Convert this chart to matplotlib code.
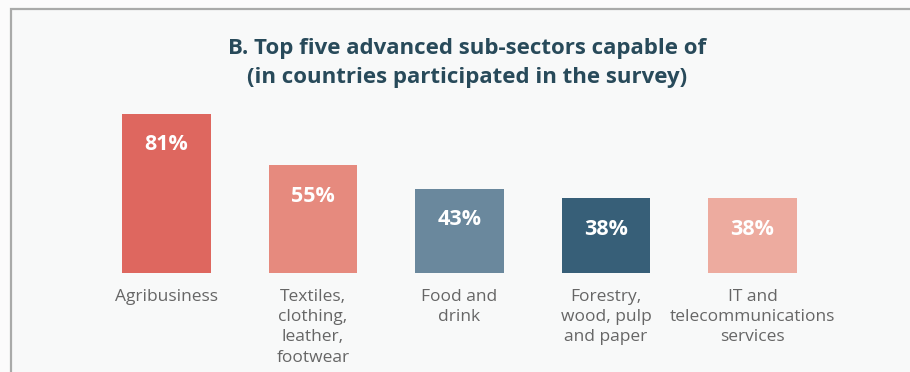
import matplotlib.pyplot as plt
from matplotlib.patches import Rectangle
from matplotlib import transforms

# sub-sector shares, percent of surveyed countries
sectors = ["Agribusiness", "Textiles,\nclothing,\nleather,\nfootwear", "Food and\ndrink",
           "Forestry,\nwood, pulp\nand paper", "IT and\ntelecommunications\nservices"]
shares = [81, 55, 43, 38, 38]
bar_colors = ["#de675f", "#e68a7e", "#6a889d", "#375f78", "#edab9f"]
title = "B. Top five advanced sub-sectors capable of\n(in countries participated in the survey)"

plt.rcParams["font.family"] = ["Open Sans", "DejaVu Sans"]

W, H = 910, 372
fig = plt.figure(figsize=(W / 100, H / 100), dpi=100)
fig.patch.set_facecolor("#fbfbfb")

# panel frame (runs off the right and bottom edges)
frame = Rectangle((10.5 / W, -0.05), 1.1, 1 - 9 / H + 0.05, transform=fig.transFigure,
                  facecolor="#f8f9f9", edgecolor="#a9aaa9", linewidth=1.6, zorder=-5)
fig.patches.append(frame)

fig.text(467 / W, 1 - 63 / H, title, ha="center", va="center", fontsize=16,
         fontweight="bold", color="#284a5a", linespacing=1.5)

ax = fig.add_axes([93.25 / W, 99 / H, 732.5 / W, 196.3 / H])
ax.set_facecolor("none")
x = range(len(shares))
bars = ax.bar(x, shares, width=0.607, color=bar_colors)
ax.set_xlim(-0.5, len(shares) - 0.5)
ax.set_ylim(0, 100)
ax.axis("off")

for b, v in zip(bars, shares):
    off = transforms.offset_copy(ax.transData, fig=fig, x=0, y=-31, units="dots")
    ax.text(b.get_x() + b.get_width() / 2, v, f"{v}%", transform=off, ha="center",
            va="center", fontsize=15.5, fontweight="bold", color="white")

for i, s in enumerate(sectors):
    off = transforms.offset_copy(ax.transData, fig=fig, x=0, y=-16, units="dots")
    ax.text(i, 0, s, transform=off, ha="center", va="top", fontsize=12.5,
            color="#666666", linespacing=1.35)

fig.savefig("out.png", dpi=100, facecolor=fig.get_facecolor())
